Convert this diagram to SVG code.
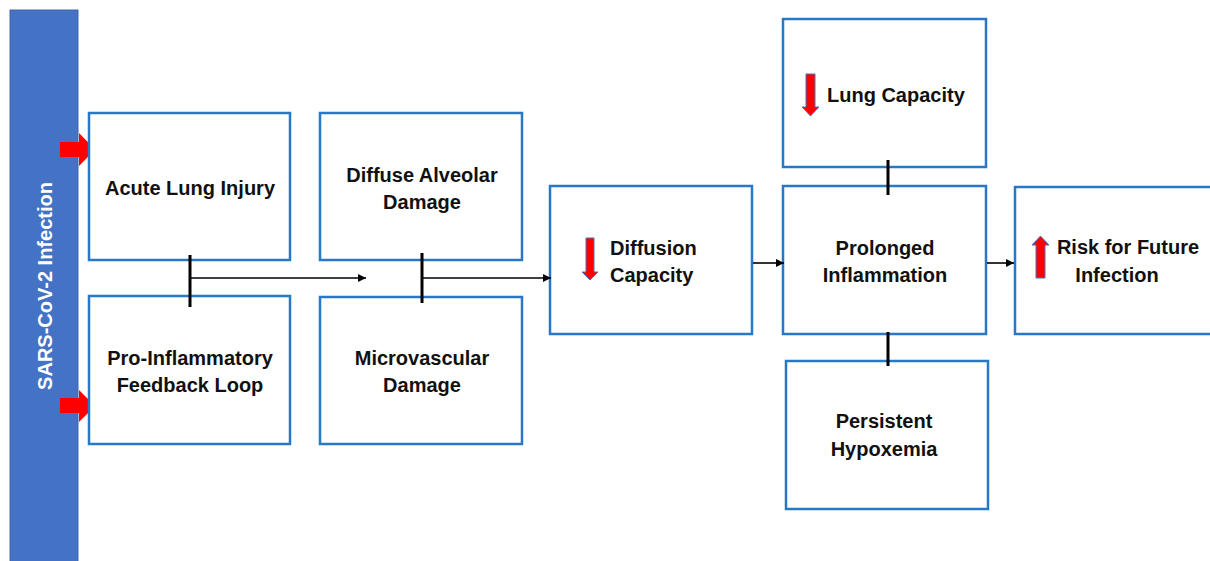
<svg xmlns="http://www.w3.org/2000/svg" width="1210" height="561" viewBox="0 0 1210 561">
<defs>
<style>
.box{fill:#fff;stroke:#2878C8;stroke-width:2.5}
.t{font-family:"Liberation Sans",Arial,sans-serif;font-weight:bold;font-size:20px;fill:#111}
.c{text-anchor:middle}
.ln{stroke:#000;stroke-width:1.6;fill:none}
.bar{stroke:#000;stroke-width:3;fill:none}
.red{fill:#FF0000}
.redo{fill:#FF0000;stroke:#4472C4;stroke-width:1}
</style>
<marker id="ah" viewBox="0 0 10 10" refX="10" refY="5" markerWidth="9" markerHeight="8" markerUnits="userSpaceOnUse" orient="auto">
<path d="M0,0 L10,5 L0,10 z" fill="#000"/>
</marker>
</defs>
<rect width="1210" height="561" fill="#fff"/>

<g id="sars">
<rect x="10" y="10" width="68" height="560" fill="#4472C4" stroke="#3A66B0" stroke-width="1"/>
<text class="t c" transform="translate(52,286) rotate(-90)" style="fill:#fff">SARS-CoV-2 Infection</text>
<path class="red" d="M60,142 L79,142 L79,133 L95,149.5 L79,166 L79,157 L60,157 z"/>
<path class="red" d="M60,398 L79,398 L79,390 L95,406 L79,422 L79,413 L60,413 z"/>
</g>

<g id="acute">
<rect class="box" x="89" y="113" width="201" height="147"/>
<text class="t c" x="190" y="195">Acute Lung Injury</text>
</g>
<g id="proinfl">
<rect class="box" x="89" y="296" width="201" height="148"/>
<text class="t c" x="190" y="365">Pro-Inflammatory</text>
<text class="t c" x="190" y="392">Feedback Loop</text>
</g>
<g id="diffuse">
<rect class="box" x="320" y="113" width="202" height="147"/>
<text class="t c" x="422" y="182">Diffuse Alveolar</text>
<text class="t c" x="422" y="209">Damage</text>
</g>
<g id="micro">
<rect class="box" x="320" y="297" width="202" height="147"/>
<text class="t c" x="422" y="365">Microvascular</text>
<text class="t c" x="422" y="392">Damage</text>
</g>
<g id="diffusion">
<rect class="box" x="550" y="186" width="202" height="148"/>
<path class="redo" d="M586,238 L594,238 L594,272 L598,272 L590,280 L582,272 L586,272 z"/>
<text class="t" x="610" y="255">Diffusion</text>
<text class="t" x="610" y="282">Capacity</text>
</g>
<g id="lungcap">
<rect class="box" x="783" y="19" width="203" height="148"/>
<path class="redo" d="M806,74 L815,74 L815,107 L819,107 L810.5,116 L802,107 L806,107 z"/>
<text class="t" x="827" y="102">Lung Capacity</text>
</g>
<g id="prolonged">
<rect class="box" x="783" y="186" width="203" height="148"/>
<text class="t c" x="885" y="255">Prolonged</text>
<text class="t c" x="885" y="282">Inflammation</text>
</g>
<g id="hypox">
<rect class="box" x="786" y="361" width="202" height="148"/>
<text class="t c" x="884" y="428">Persistent</text>
<text class="t c" x="884" y="456">Hypoxemia</text>
</g>
<g id="risk">
<rect class="box" x="1015" y="187" width="205" height="147"/>
<path class="redo" d="M1036,278 L1045,278 L1045,245 L1049,245 L1040.5,236 L1032,245 L1036,245 z"/>
<text class="t c" x="1128" y="254">Risk for Future</text>
<text class="t c" x="1117" y="282">Infection</text>
</g>

<g id="connectors">
<line class="bar" x1="190" y1="255" x2="190" y2="307"/>
<line class="ln" x1="190" y1="278" x2="366" y2="278" marker-end="url(#ah)"/>
<line class="bar" x1="422" y1="253" x2="422" y2="303"/>
<line class="ln" x1="422" y1="278" x2="551" y2="278" marker-end="url(#ah)"/>
<line class="ln" x1="753" y1="263" x2="784" y2="263" marker-end="url(#ah)"/>
<line class="ln" x1="987" y1="263" x2="1014" y2="263" marker-end="url(#ah)"/>
<line class="bar" x1="888" y1="160" x2="888" y2="195"/>
<line class="bar" x1="888" y1="332" x2="888" y2="366"/>
</g>
</svg>
